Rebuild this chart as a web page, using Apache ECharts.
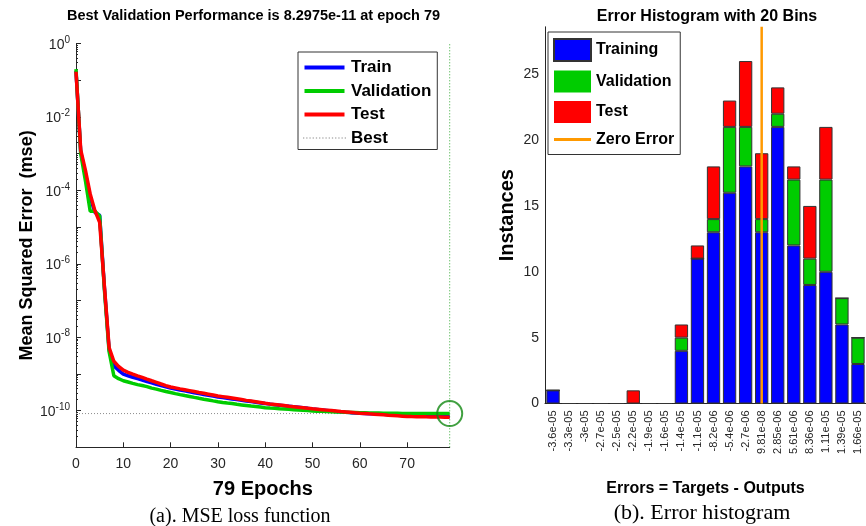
<!DOCTYPE html>
<html>
<head>
<meta charset="utf-8">
<script src="https://cdn.jsdelivr.net/npm/echarts@6/dist/echarts.min.js"></script>
<style>
  html, body { margin: 0; padding: 0; background: #fff; }
  #chart { width: 866px; height: 526px; }
</style>
</head>
<body>
<div id="chart"></div>
<script>
// ---- Training record: mean squared error per epoch (epochs 0..79) ----
const trainPerf = [0.18, 1.1e-3, 2.8e-4, 6.5e-5, 2.5e-5, 2.1e-5, 2.3e-7, 4.6e-9, 1.65e-9, 1.25e-9, 9.8e-10,
  8.9e-10, 8.1e-10, 7.4e-10, 6.8e-10, 6.2e-10, 5.7e-10, 5.2e-10, 4.8e-10, 4.45e-10, 4.1e-10,
  3.87e-10, 3.65e-10, 3.45e-10, 3.25e-10, 3.07e-10, 2.9e-10, 2.76e-10, 2.62e-10, 2.48e-10, 2.35e-10,
  2.26e-10, 2.17e-10, 2.08e-10, 2.0e-10, 1.91e-10, 1.83e-10, 1.76e-10, 1.69e-10, 1.62e-10, 1.55e-10,
  1.5e-10, 1.45e-10, 1.4e-10, 1.35e-10, 1.31e-10, 1.27e-10, 1.23e-10, 1.19e-10, 1.15e-10, 1.1e-10,
  1.07e-10, 1.04e-10, 1.01e-10, 9.8e-11, 9.5e-11, 9.25e-11, 9.0e-11, 8.8e-11, 8.65e-11, 8.5e-11,
  8.38e-11, 8.26e-11, 8.14e-11, 8.02e-11, 7.9e-11, 7.8e-11, 7.7e-11, 7.6e-11, 7.5e-11, 7.4e-11,
  7.35e-11, 7.3e-11, 7.25e-11, 7.2e-11, 7.12e-11, 7.05e-11, 7.0e-11, 6.95e-11, 6.9e-11];

const valPerf = [0.2, 1.0e-3, 1.8e-4, 2.7e-5, 2.7e-5, 2.0e-5, 2.0e-7, 4.0e-9, 8.9e-10, 7.4e-10, 6.5e-10,
  6.0e-10, 5.5e-10, 5.1e-10, 4.8e-10, 4.5e-10, 4.1e-10, 3.85e-10, 3.55e-10, 3.3e-10, 3.1e-10,
  2.9e-10, 2.72e-10, 2.57e-10, 2.43e-10, 2.29e-10, 2.16e-10, 2.04e-10, 1.95e-10, 1.84e-10, 1.74e-10,
  1.66e-10, 1.6e-10, 1.55e-10, 1.48e-10, 1.43e-10, 1.38e-10, 1.33e-10, 1.29e-10, 1.25e-10, 1.2e-10,
  1.17e-10, 1.15e-10, 1.12e-10, 1.11e-10, 1.08e-10, 1.06e-10, 1.04e-10, 1.02e-10, 1.0e-10, 9.8e-11,
  9.65e-11, 9.55e-11, 9.45e-11, 9.35e-11, 9.22e-11, 9.12e-11, 9.02e-11, 8.92e-11, 8.82e-11, 8.72e-11,
  8.68e-11, 8.63e-11, 8.59e-11, 8.55e-11, 8.51e-11, 8.47e-11, 8.43e-11, 8.4e-11, 8.37e-11, 8.35e-11,
  8.34e-11, 8.33e-11, 8.32e-11, 8.32e-11, 8.31e-11, 8.31e-11, 8.30e-11, 8.30e-11, 8.2975e-11];

const testPerf = [0.17, 1.26e-3, 3.5e-4, 8.0e-5, 2.8e-5, 1.35e-5, 2.5e-7, 5.2e-9, 2.2e-9, 1.6e-9, 1.26e-9,
  1.1e-9, 9.8e-10, 8.8e-10, 8.0e-10, 7.2e-10, 6.5e-10, 5.9e-10, 5.3e-10, 4.8e-10, 4.4e-10,
  4.15e-10, 3.9e-10, 3.7e-10, 3.5e-10, 3.3e-10, 3.1e-10, 2.95e-10, 2.8e-10, 2.65e-10, 2.5e-10,
  2.4e-10, 2.3e-10, 2.2e-10, 2.1e-10, 2.0e-10, 1.9e-10, 1.82e-10, 1.74e-10, 1.66e-10, 1.58e-10,
  1.52e-10, 1.47e-10, 1.42e-10, 1.37e-10, 1.32e-10, 1.28e-10, 1.24e-10, 1.2e-10, 1.16e-10, 1.12e-10,
  1.09e-10, 1.06e-10, 1.03e-10, 1.0e-10, 9.7e-11, 9.4e-11, 9.2e-11, 8.95e-11, 8.7e-11, 8.5e-11,
  8.33e-11, 8.16e-11, 8.0e-11, 7.84e-11, 7.68e-11, 7.52e-11, 7.37e-11, 7.22e-11, 7.06e-11, 6.9e-11,
  6.86e-11, 6.83e-11, 6.8e-11, 6.76e-11, 6.73e-11, 6.7e-11, 6.67e-11, 6.63e-11, 6.6e-11];

const bestEpoch = 79;
const bestPerf = 8.2975e-11;
const perfMin = 1e-11;
const perfMax = 1;

// ---- Error histogram, 20 bins ----
const binLabels = ['-3.6e-05', '-3.3e-05', '-3e-05', '-2.7e-05', '-2.5e-05', '-2.2e-05', '-1.9e-05',
  '-1.6e-05', '-1.4e-05', '-1.1e-05', '-8.2e-06', '-5.4e-06', '-2.7e-06', '9.81e-08', '2.85e-06',
  '5.61e-06', '8.36e-06', '1.11e-05', '1.39e-05', '1.66e-05'];
const trainingCounts   = [1, 0, 0, 0, 0, 0, 0, 0, 4, 11, 13, 16, 18, 13, 21, 12, 9, 10, 6, 3];
const validationCounts = [0, 0, 0, 0, 0, 0, 0, 0, 1, 0, 1, 5, 3, 1, 1, 5, 2, 7, 2, 2];
const testCounts       = [0, 0, 0, 0, 0, 1, 0, 0, 1, 1, 4, 2, 5, 5, 2, 1, 4, 4, 0, 0];
const zeroErrorBin = '9.81e-08';   // bin that contains zero error
const histMax = 28.6;

const FONT = 'Liberation Sans, Arial, sans-serif';
const SERIF = 'Liberation Serif, Times New Roman, serif';
const AX = '#262626';
const BLUE = '#0000ff', GREEN = '#00cc00', RED = '#ff0000', ORANGE = '#ff9900';

// legend glyphs: solid stroke and dotted stroke
const LINE_ICON = 'path://M0,0 L40,0 L40,4 L0,4 Z';
const DOT_ICON = 'path://' + [0, 3, 6, 9, 12, 15, 18, 21, 24, 27, 30, 33, 36, 39]
  .map(x => 'M' + x + ',0 h1.2 v1 h-1.2 Z').join(' ');

const withEpoch = arr => arr.map((v, i) => [i, v]);

const chart = echarts.init(document.getElementById('chart'), null, { renderer: 'canvas' });

const perfLine = (name, data, color) => ({
  name, type: 'line', xAxisIndex: 0, yAxisIndex: 0,
  data: withEpoch(data), symbol: 'none', showSymbol: false,
  lineStyle: { color, width: 3.5 }, itemStyle: { color }, z: 3
});

const histBar = (name, data, color) => ({
  name, type: 'bar', xAxisIndex: 1, yAxisIndex: 1, stack: 'hist',
  data, barWidth: '83%',
  itemStyle: { color, borderColor: '#333', borderWidth: 1 }
});

chart.setOption({
  animation: false,
  backgroundColor: '#fff',
  textStyle: { fontFamily: FONT },
  title: [
    { text: 'Best Validation Performance is 8.2975e-11 at epoch 79', left: 248.5, top: 3, textAlign: 'center',
      textStyle: { fontSize: 14.5, fontWeight: 'bold', color: '#000', fontFamily: FONT } },
    { text: 'Error Histogram with 20 Bins', left: 702, top: 4, textAlign: 'center',
      textStyle: { fontSize: 16, fontWeight: 'bold', color: '#000', fontFamily: FONT } },
    { text: '(a). MSE loss function', left: 235, top: 502, textAlign: 'center',
      textStyle: { fontSize: 20, fontWeight: 'normal', color: '#000', fontFamily: SERIF } },
    { text: '(b). Error histogram', left: 697, top: 497, textAlign: 'center',
      textStyle: { fontSize: 22, fontWeight: 'normal', color: '#000', fontFamily: SERIF } }
  ],
  legend: [
    { data: [
        { name: 'Train', icon: LINE_ICON },
        { name: 'Validation', icon: LINE_ICON },
        { name: 'Test', icon: LINE_ICON },
        { name: 'Best', icon: DOT_ICON }
      ],
      orient: 'vertical', left: 298, top: 52,
      itemWidth: 43, itemHeight: 4, itemGap: 6.5, padding: [7, 6, 3, 5],
      borderColor: '#333', borderWidth: 1, backgroundColor: '#fff',
      textStyle: { fontSize: 17, fontWeight: 'bold', color: '#000', fontFamily: FONT },
      selectedMode: false },
    { data: [
        { name: 'Training', icon: 'rect' },
        { name: 'Validation', icon: 'rect' },
        { name: 'Test', icon: 'rect' },
        { name: 'Zero Error', icon: 'path://M0,0 L40,0 L40,3 L0,3 Z' }
      ],
      orient: 'vertical', left: 548, top: 32,
      itemWidth: 37, itemHeight: 22, itemGap: 8.5, padding: [6, 6, 7, 5],
      borderColor: '#333', borderWidth: 1, backgroundColor: '#fff',
      textStyle: { fontSize: 16, fontWeight: 'bold', color: '#000', fontFamily: FONT },
      selectedMode: false }
  ],
  grid: [
    { left: 76, top: 43.5, width: 373.7, height: 403.8 },
    { left: 545, top: 26.8, width: 324, height: 376.7 }
  ],
  xAxis: [
    { type: 'value', gridIndex: 0, min: 0, max: bestEpoch, interval: 10,
      name: '79 Epochs', nameLocation: 'middle', nameGap: 32,
      nameTextStyle: { fontSize: 20, fontWeight: 'bold', color: '#000', fontFamily: FONT },
      axisLine: { show: true, lineStyle: { color: AX, width: 1 } },
      axisTick: { inside: true, length: 5, lineStyle: { color: AX } },
      axisLabel: { fontSize: 14, color: AX, margin: 10, showMaxLabel: false, fontFamily: FONT },
      splitLine: { show: false } },
    { type: 'category', gridIndex: 1, data: binLabels,
      name: 'Errors = Targets - Outputs', nameLocation: 'middle', nameGap: 77,
      nameTextStyle: { fontSize: 16, fontWeight: 'bold', color: '#000', fontFamily: FONT },
      axisLine: { show: true, onZero: false, lineStyle: { color: AX, width: 1 } },
      axisTick: { inside: true, alignWithLabel: true, length: 4, lineStyle: { color: AX } },
      axisLabel: { rotate: 90, fontSize: 11, color: AX, margin: 7, interval: 0, fontFamily: FONT },
      splitLine: { show: false } }
  ],
  yAxis: [
    { type: 'log', gridIndex: 0, logBase: 10, min: perfMin, max: perfMax, interval: 1,
      name: 'Mean Squared Error  (mse)', nameLocation: 'middle', nameGap: 39,
      nameTextStyle: { fontSize: 18, fontWeight: 'bold', color: '#000', fontFamily: FONT },
      axisLine: { show: true, lineStyle: { color: AX, width: 1 } },
      axisTick: { inside: true, length: 5, lineStyle: { color: AX } },
      minorTick: { show: true, splitNumber: 9, length: 2, lineStyle: { color: AX } },
      axisLabel: {
        margin: 6, color: AX,
        formatter: v => {
          const e = Math.round(Math.log10(v));
          if (e % 2 !== 0) return '';
          return '{b|10}{s|' + e + '}';
        },
        rich: {
          b: { fontSize: 14, color: AX, fontFamily: FONT, lineHeight: 17, verticalAlign: 'bottom' },
          s: { fontSize: 10, color: AX, fontFamily: FONT, lineHeight: 10, verticalAlign: 'top' }
        }
      },
      splitLine: { show: false } },
    { type: 'value', gridIndex: 1, min: 0, max: histMax, interval: 5,
      name: 'Instances', nameLocation: 'middle', nameGap: 28,
      nameTextStyle: { fontSize: 20, fontWeight: 'bold', color: '#000', fontFamily: FONT },
      axisLine: { show: true, lineStyle: { color: AX, width: 1 } },
      axisTick: { inside: true, length: 5, lineStyle: { color: AX } },
      axisLabel: { fontSize: 14, color: AX, margin: 6, showMaxLabel: false, fontFamily: FONT },
      splitLine: { show: false } }
  ],
  series: [
    perfLine('Train', trainPerf, BLUE),
    perfLine('Validation', valPerf, GREEN),
    perfLine('Test', testPerf, RED),
    // best-performance guide lines
    { name: 'Best', type: 'line', xAxisIndex: 0, yAxisIndex: 0, symbol: 'none',
      data: [[0, bestPerf], [bestEpoch, bestPerf]],
      lineStyle: { color: '#8c8c8c', width: 1, type: [1, 2] }, itemStyle: { color: '#8c8c8c' }, z: 2 },
    { name: 'bestEpochLine', type: 'line', xAxisIndex: 0, yAxisIndex: 0, symbol: 'none',
      data: [[bestEpoch, perfMin], [bestEpoch, perfMax]],
      lineStyle: { color: '#33aa33', width: 1, type: [1, 2] }, z: 2 },
    { name: 'bestMarker', type: 'scatter', xAxisIndex: 0, yAxisIndex: 0,
      data: [[bestEpoch, bestPerf]], symbol: 'circle', symbolSize: 25,
      itemStyle: { color: 'rgba(0,0,0,0)', borderColor: '#118811', borderWidth: 2 }, z: 5 },

    histBar('Training', trainingCounts, BLUE),
    histBar('Validation', validationCounts, GREEN),
    histBar('Test', testCounts, RED),
    { name: 'Zero Error', type: 'line', xAxisIndex: 1, yAxisIndex: 1, symbol: 'none',
      data: [[zeroErrorBin, 0], [zeroErrorBin, histMax]],
      lineStyle: { color: ORANGE, width: 2.5 }, itemStyle: { color: ORANGE }, z: 5 }
  ]
});
</script>
</body>
</html>
